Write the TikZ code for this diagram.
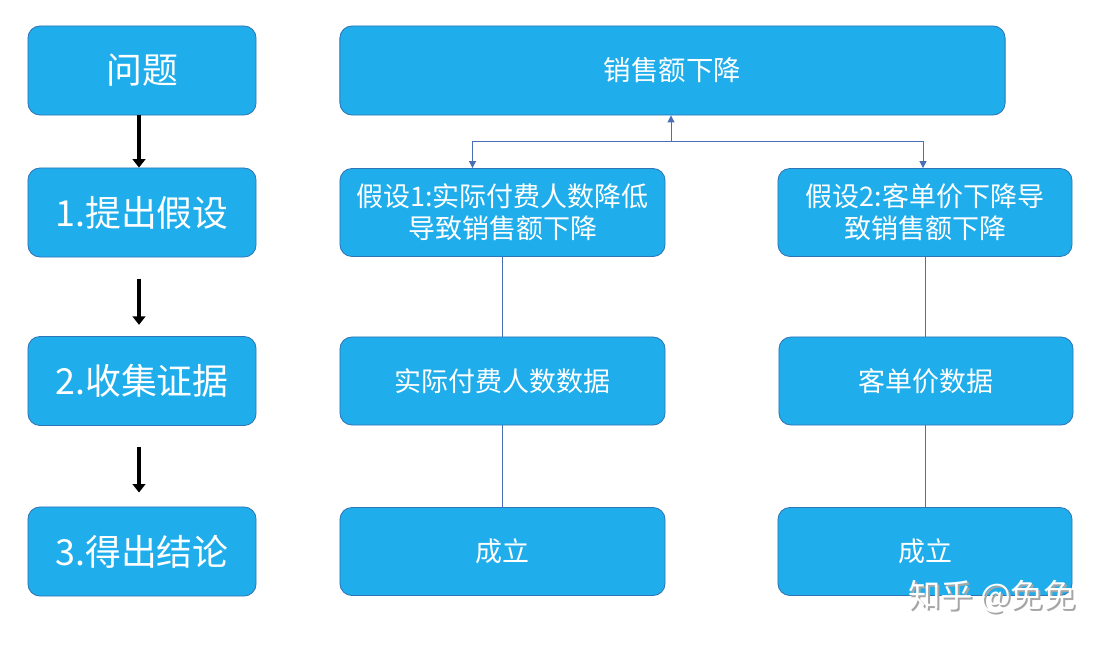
\documentclass[tikz,border=0pt]{standalone}
\usepackage{fontspec}
\usepackage{tikz}
\usetikzlibrary{arrows.meta,calc}
\newfontfamily\zh{Noto Sans CJK SC}
\definecolor{boxblue}{HTML}{1FAEEB}
\definecolor{edgeblue}{HTML}{2E75B6}
\definecolor{linkblue}{HTML}{4A6FB5}

\tikzset{
  box/.style={draw=edgeblue, line width=0.6pt, fill=boxblue, rounded corners=0.3cm,
    text=white, font=\zh, align=center, inner sep=0pt},
  stagebox/.style={box, minimum width=5.7cm, minimum height=2.225cm, font=\zh\fontsize{25.5}{30}\selectfont},
  leftbox/.style={box, minimum width=8.125cm, minimum height=2.2cm, font=\zh\fontsize{19.2}{22.7}\selectfont},
  rightbox/.style={box, minimum width=7.35cm, minimum height=2.2cm, font=\zh\fontsize{19.2}{22.7}\selectfont},
  stagearrow/.style={-{Triangle[width=9pt,length=6pt]}, line width=2.8pt, black},
  link/.style={linkblue, line width=0.7pt},
  linkarrow/.style={link, -{Triangle[width=5pt,length=5pt]}}
}

\begin{document}
\begin{tikzpicture}[x=0.025cm, y=-0.025cm]
\useasboundingbox (0, 0) rectangle (1108, 644);
\fill[white] (0, 0) rectangle (1108, 644);

% left column: the steps
\node[stagebox] (q) at (142, 70.5) {问题};
\node[stagebox] (s1) at (142, 212.5) {1.提出假设};
\node[stagebox] (s2) at (142, 381) {2.收集证据};
\node[stagebox] (s3) at (142, 551.5) {3.得出结论};
\draw[stagearrow] (q.south -| 139, 0) -- (s1.north -| 139, 0);
\draw[stagearrow, shorten <=15pt, shorten >=8pt] (s1.south -| 139, 0) -- (s2.north -| 139, 0);
\draw[stagearrow, shorten <=15pt, shorten >=10pt] (s2.south -| 139, 0) -- (s3.north -| 139, 0);

% right part: the case
\node[box, minimum width=16.625cm, minimum height=2.225cm, font=\zh\fontsize{19.5}{22}\selectfont] (top) at (672.5, 70.5) {销售额下降};
\node[leftbox] (h1) at (502.5, 212.5) {假设1:实际付费人数降低\\导致销售额下降};
\node[rightbox] (h2) at (925, 212.5) {假设2:客单价下降导\\致销售额下降};
\node[leftbox] (d1) at (502.5, 381) {实际付费人数数据};
\node[rightbox] (d2) at (926, 381) {客单价数据};
\node[leftbox] (c1) at (502.5, 551.5) {成立};
\node[rightbox] (c2) at (925, 551.5) {成立};

\coordinate (fork) at (671, 141);
\draw[linkarrow] (fork) -- (fork |- top.south);
\draw[linkarrow] (fork) -| ($(h1.north)+(-30, 0)$);
\draw[linkarrow] (fork) -| ($(h2.north)+(-2, 0)$);
\draw[link] (h1.south) -- (d1.north);
\draw[link] (d1.south) -- (c1.north);
\draw[link] (h2.south) -- (h2.south |- d2.north);
\draw[link] (d2.south -| h2.south) -- (c2.north);

% watermark
\node[font=\zh\fontsize{23}{26}\selectfont, text=gray!70] (wms) at (994, 599) {知乎 @免免};
\node[font=\zh\fontsize{23}{26}\selectfont, text=white] (wm) at (992, 597) {知乎 @免免};
\end{tikzpicture}
\end{document}
